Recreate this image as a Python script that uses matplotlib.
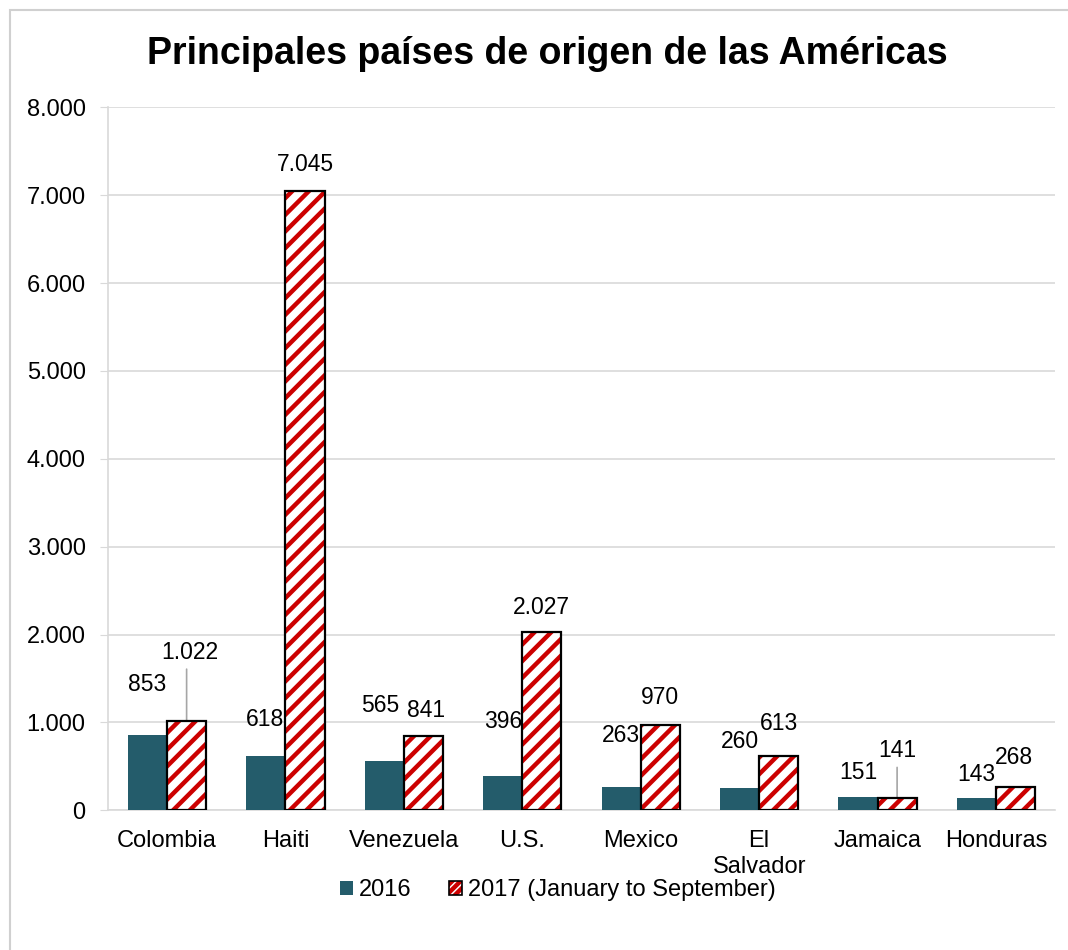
import matplotlib.pyplot as plt
import matplotlib.patches as mpatches
import numpy as np

plt.rcParams['font.family'] = ['Liberation Sans', 'DejaVu Sans']
plt.rcParams['hatch.linewidth'] = 3.2

# data
countries = ['Colombia', 'Haiti', 'Venezuela', 'U.S.', 'Mexico', 'El\nSalvador', 'Jamaica', 'Honduras']
v2016 = [853, 618, 565, 396, 263, 260, 151, 143]
v2017 = [1022, 7045, 841, 2027, 970, 613, 141, 268]
yticks = [0, 1000, 2000, 3000, 4000, 5000, 6000, 7000, 8000]

# label offsets in points (dx, dy) from bar top centre
off2016 = [(0, 37), (-1, 26), (-3, 40), (0, 39), (0, 37), (0, 33), (0, 18), (0, 17)]
off2017 = [(2, 49), (0, 19), (2, 19), (0, 18), (0, 20), (0, 24), (0, 34), (-1, 21)]

teal = '#245C6B'
red = '#CC0000'
fs = 16.5


def fmt(v):
    return f'{v:,}'.replace(',', '.')


fig = plt.figure(figsize=(10.68, 9.5), dpi=100)
ax = fig.add_axes([0.101, 0.147, 0.887, 0.74])

x = np.arange(len(countries))
w = 0.33
b1 = ax.bar(x - w / 2, v2016, w, color=teal, zorder=3)
b2 = ax.bar(x + w / 2, v2017, w, color='white', edgecolor=red, linewidth=0,
            hatch='//', zorder=3)
ax.bar(x + w / 2, v2017, w, fill=False, edgecolor='black', linewidth=1.6, zorder=4)

for rect, v, (dx, dy) in zip(b1, v2016, off2016):
    ax.annotate(fmt(v), (rect.get_x() + rect.get_width() / 2, v), xytext=(dx, dy),
                textcoords='offset points', ha='center', va='center', fontsize=fs)
for rect, v, (dx, dy) in zip(b2, v2017, off2017):
    cx = rect.get_x() + rect.get_width() / 2
    ax.annotate(fmt(v), (cx, v), xytext=(dx, dy),
                textcoords='offset points', ha='center', va='center', fontsize=fs)
    if dy > 30:
        ax.annotate('', (cx, v), xytext=(0, dy - 12), textcoords='offset points',
                    arrowprops=dict(arrowstyle='-', color='#A6A6A6', lw=1.2,
                                    shrinkA=0, shrinkB=0))

ax.set_ylim(0, 8000)
ax.set_xlim(-0.5, len(countries) - 0.5)
ax.set_yticks(yticks)
ax.set_yticklabels([fmt(t) for t in yticks], fontsize=17)
ax.set_xticks(x)
ax.set_xticklabels(countries, fontsize=17, linespacing=1.25)
ax.tick_params(axis='x', length=0, pad=14)
ax.tick_params(axis='y', length=6, color='#D9D9D9', pad=10)
ax.grid(axis='y', color='#D9D9D9', lw=1.2, zorder=0)
for s in ['top', 'right']:
    ax.spines[s].set_visible(False)
ax.spines['left'].set_color('#D9D9D9')
ax.spines['bottom'].set_color('#D9D9D9')
ax.spines['left'].set_linewidth(1.2)
ax.spines['bottom'].set_linewidth(1.2)

fig.text(0.512, 0.943, 'Principales países de origen de las Américas', ha='center',
         va='center', fontsize=27, fontweight='bold')

h1 = mpatches.Patch(facecolor=teal, label='2016')
h2a = mpatches.Patch(facecolor='white', edgecolor=red, linewidth=0, hatch='////')
h2b = mpatches.Patch(fill=False, edgecolor='black', linewidth=1.2)
fig.legend(handles=[h1, (h2a, h2b)], labels=['2016', '2017 (January to September)'],
           loc='center', bbox_to_anchor=(0.522, 0.063), ncol=2,
           frameon=False, fontsize=17, handlelength=0.55, handleheight=0.55,
           handletextpad=0.25, columnspacing=1.6)

fig.add_artist(mpatches.Rectangle((0.0094, -0.01), 1.0, 1.0, transform=fig.transFigure,
                                  fill=False, edgecolor='#D0D0D0', lw=1.5))

fig.savefig('out.png', dpi=100)
